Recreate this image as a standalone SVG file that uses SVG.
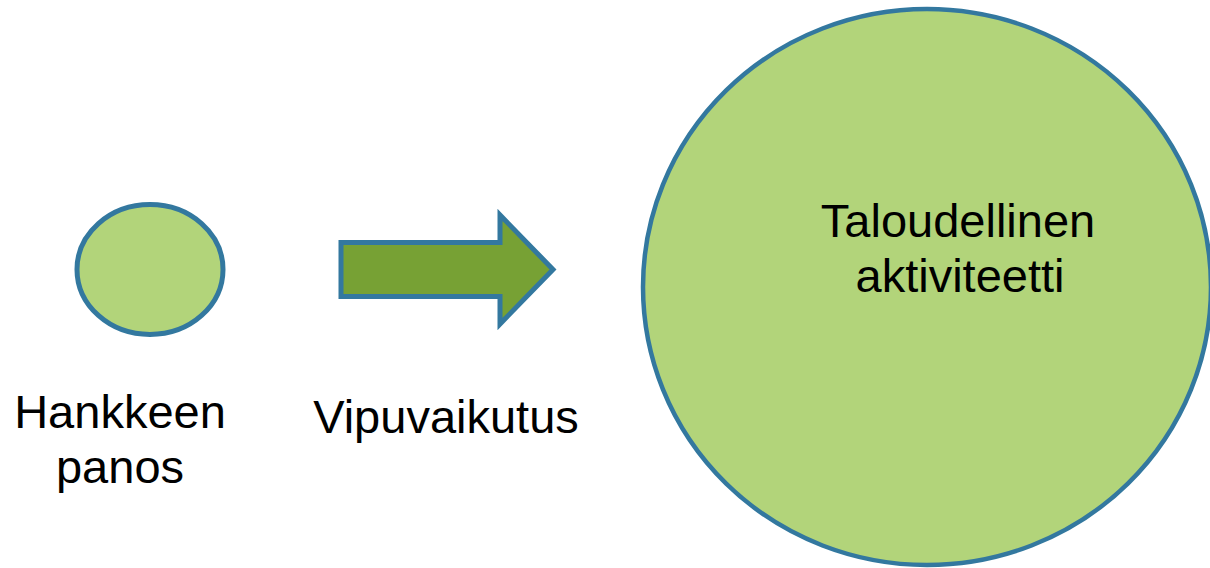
<svg xmlns="http://www.w3.org/2000/svg" width="1210" height="568" viewBox="0 0 1210 568">
<style>
.shape{fill:#b2d47a;stroke:#33789f;}
.arrow{fill:#77a134;stroke:#33789f;stroke-width:5;stroke-linejoin:miter;}
text{font-family:"Liberation Sans",Arial,sans-serif;font-size:47px;fill:#000;text-anchor:middle;}
</style>
<rect width="1210" height="568" fill="#ffffff"/>
<g id="node-taloudellinen">
<ellipse class="shape" cx="927" cy="287" rx="284" ry="278" stroke-width="4.5"/>
<text x="958" y="237">Taloudellinen</text>
<text x="960" y="292">aktiviteetti</text>
</g>
<g id="node-hankkeen">
<ellipse class="shape" cx="150" cy="269.5" rx="73" ry="65" stroke-width="5"/>
<text x="120" y="428">Hankkeen</text>
<text x="120" y="483">panos</text>
</g>
<g id="connectors">
<path class="arrow" d="M341,242.5 H500 V215 L553,269.5 L500,324 V296.5 H341 Z"/>
<text x="446" y="433">Vipuvaikutus</text>
</g>
</svg>
